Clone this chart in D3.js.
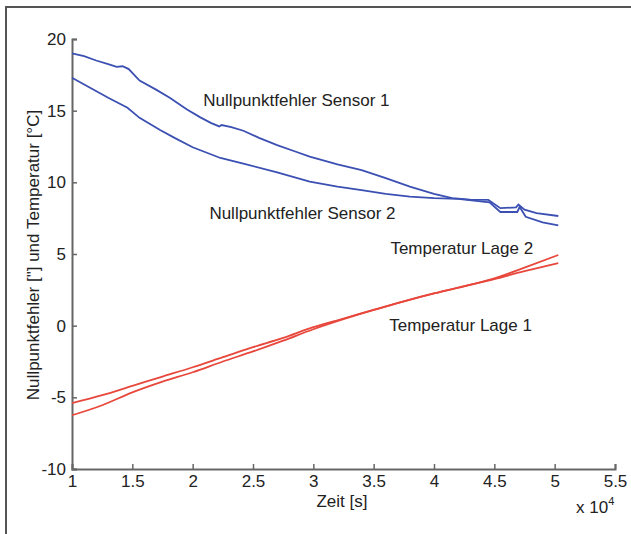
<!DOCTYPE html>
<html>
<head>
<meta charset="utf-8">
<script src="https://cdn.jsdelivr.net/npm/d3@7"></script>
<style>
body { margin: 0; background: #fff; }
svg text { font-family: "Liberation Sans", Arial, sans-serif; fill: #222; }
</style>
</head>
<body>
<svg id="chart" width="631" height="534"></svg>
<script>
// Zeit in 10^4 s, Werte in " bzw. °C
var sensor1 = [
	[1.00, 19.0], [1.10, 18.8], [1.20, 18.5], [1.30, 18.25], [1.37, 18.05], [1.42, 18.1],
	[1.47, 17.9], [1.56, 17.1], [1.70, 16.45], [1.81, 15.9], [1.95, 15.1], [2.06, 14.55],
	[2.15, 14.15], [2.22, 13.9], [2.24, 14.0], [2.32, 13.85], [2.42, 13.6], [2.55, 13.1],
	[2.70, 12.6], [2.85, 12.15], [2.97, 11.8], [3.20, 11.25], [3.40, 10.85], [3.60, 10.3],
	[3.80, 9.7], [4.00, 9.2], [4.15, 8.9], [4.30, 8.8], [4.45, 8.77], [4.55, 8.2],
	[4.68, 8.25], [4.70, 8.45], [4.75, 8.1], [4.85, 7.85], [5.03, 7.65]
];
var sensor2 = [
	[1.00, 17.3], [1.15, 16.6], [1.30, 15.9], [1.46, 15.2], [1.56, 14.5], [1.73, 13.65],
	[1.85, 13.1], [2.00, 12.45], [2.23, 11.7], [2.42, 11.3], [2.70, 10.7], [2.97, 10.05],
	[3.20, 9.7], [3.40, 9.45], [3.60, 9.2], [3.80, 9.0], [4.00, 8.9], [4.20, 8.85],
	[4.46, 8.6], [4.55, 7.93], [4.69, 7.93], [4.71, 8.28], [4.76, 7.6], [4.90, 7.2],
	[5.03, 7.0]
];
var lage1 = [
	[1.00, -5.4], [1.25, -4.85], [1.50, -4.2], [1.75, -3.55], [2.00, -2.9], [2.25, -2.2],
	[2.50, -1.5], [2.75, -0.85], [3.00, -0.1], [3.25, 0.5], [3.50, 1.1], [3.75, 1.7],
	[4.00, 2.25], [4.25, 2.75], [4.50, 3.25], [4.75, 3.8], [5.03, 4.37]
];
var lage2 = [
	[1.00, -6.25], [1.25, -5.55], [1.50, -4.65], [1.75, -3.9], [2.00, -3.25], [2.25, -2.5],
	[2.50, -1.8], [2.75, -1.05], [3.00, -0.25], [3.25, 0.45], [3.50, 1.1], [3.75, 1.7],
	[4.00, 2.25], [4.25, 2.75], [4.50, 3.3], [4.75, 4.05], [5.03, 4.93]
];
var xTicks = [1, 1.5, 2, 2.5, 3, 3.5, 4, 4.5, 5, 5.5];
var yTicks = [-10, -5, 0, 5, 10, 15, 20];
var labels = [
	{ text: "Nullpunktfehler Sensor 1", x: 2.86, y: 15.74 },
	{ text: "Nullpunktfehler Sensor 2", x: 2.91, y: 7.85 },
	{ text: "Temperatur Lage 2", x: 4.23, y: 5.42 },
	{ text: "Temperatur Lage 1", x: 4.22, y: 0.04 }
];

var svg = d3.select("#chart");

// Rahmen (nur oben und links sichtbar)
svg.append("path")
	.attr("d", "M6,534 L6,7 L631,7")
	.attr("fill", "none")
	.attr("stroke", "#555")
	.attr("stroke-width", 2);

var x = d3.scaleLinear().domain([1, 5.5]).range([72, 615]);
var y = d3.scaleLinear().domain([-10, 20]).range([469, 39]);

var xAxis = svg.append("g")
	.attr("transform", "translate(0," + y(-10) + ")")
	.call(d3.axisBottom(x).tickValues(xTicks).tickSize(-5).tickPadding(6).tickFormat(function(d){ return String(d); }));
var yAxis = svg.append("g")
	.attr("transform", "translate(" + x(1) + ",0)")
	.call(d3.axisLeft(y).tickValues(yTicks).tickSize(-5).tickPadding(6).tickFormat(function(d){ return String(d); }));

[xAxis, yAxis].forEach(function(a){
	a.select(".domain").attr("stroke", "#666").attr("stroke-width", 2);
	a.selectAll(".tick line").attr("stroke", "#666").attr("stroke-width", 1.5);
	a.selectAll(".tick text").style("font-size", "17px").attr("fill", "#222")
		.style("font-family", "Liberation Sans, Arial, sans-serif");
});

var line = d3.line().x(function(d){ return x(d[0]); }).y(function(d){ return y(d[1]); });
var smooth = d3.line().curve(d3.curveMonotoneX).x(function(d){ return x(d[0]); }).y(function(d){ return y(d[1]); });

svg.append("path").datum(sensor1).attr("d", line)
	.attr("fill", "none").attr("stroke", "#3b50b2").attr("stroke-width", 1.8);
svg.append("path").datum(sensor2).attr("d", line)
	.attr("fill", "none").attr("stroke", "#3b50b2").attr("stroke-width", 1.8);
svg.append("path").datum(lage1).attr("d", smooth)
	.attr("fill", "none").attr("stroke", "#e8473c").attr("stroke-width", 1.8);
svg.append("path").datum(lage2).attr("d", smooth)
	.attr("fill", "none").attr("stroke", "#e8473c").attr("stroke-width", 1.8);

svg.selectAll(".lbl").data(labels).enter().append("text")
	.attr("class", "lbl")
	.attr("x", function(d){ return x(d.x); })
	.attr("y", function(d){ return y(d.y); })
	.attr("text-anchor", "middle")
	.attr("dy", "0.35em")
	.style("font-size", "17px")
	.text(function(d){ return d.text; });

svg.append("text")
	.attr("x", 342).attr("y", 507)
	.attr("text-anchor", "middle")
	.style("font-size", "17px")
	.text("Zeit [s]");

var mult = svg.append("text")
	.attr("x", 576).attr("y", 513)
	.style("font-size", "17px");
mult.append("tspan").text("x 10");
mult.append("tspan").attr("dy", -8).style("font-size", "11px").text("4");

svg.append("text")
	.attr("transform", "translate(39,255) rotate(-90)")
	.attr("text-anchor", "middle")
	.style("font-size", "17px")
	.text("Nullpunktfehler [\"] und Temperatur [°C]");
</script>
</body>
</html>
